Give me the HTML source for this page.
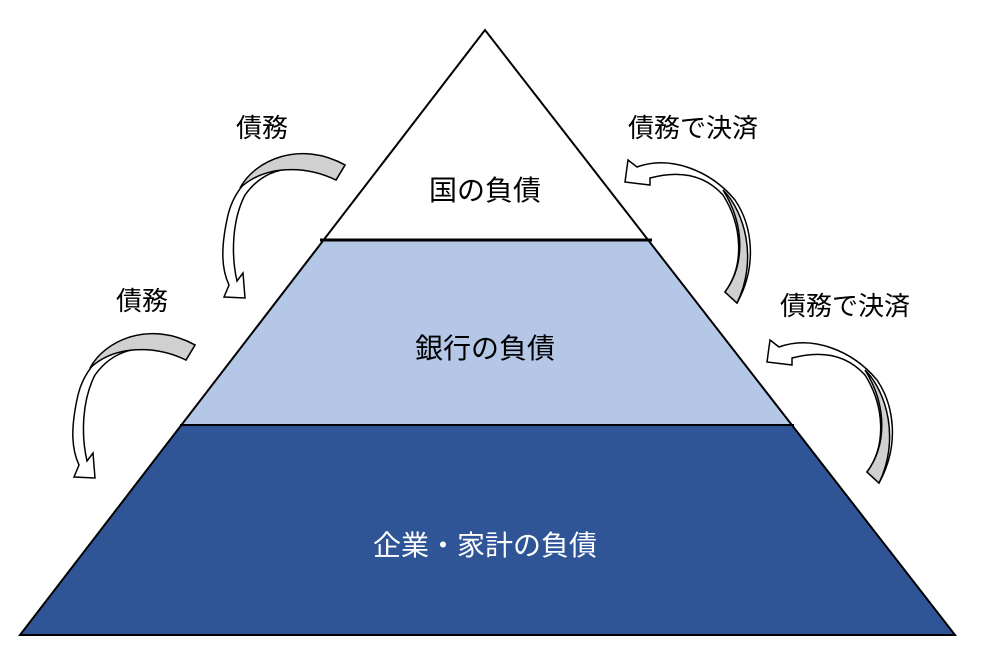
<!DOCTYPE html>
<html><head><meta charset="utf-8"><style>
html,body{margin:0;padding:0;background:#fff;}
svg{display:block}
text{font-family:"Liberation Sans","Noto Sans CJK JP",sans-serif;}
</style></head><body>
<svg width="1001" height="668" viewBox="0 0 1001 668" xmlns="http://www.w3.org/2000/svg">
<polygon points="485,30 323.6,240 648.1,240" fill="#fff"/>
<polygon points="323.6,240 648.1,240 791.9,425 181.4,425" fill="#b4c7e7"/>
<polygon points="181.4,425 791.9,425 955,635 20,635" fill="#2f5597"/>
<polygon points="485,30 20,635 955,635" fill="none" stroke="#000" stroke-width="2"/>
<line x1="320" y1="240" x2="652" y2="240" stroke="#000" stroke-width="3"/>
<line x1="180" y1="425" x2="794" y2="425" stroke="#000" stroke-width="2"/>
<text x="485" y="200" font-size="28" text-anchor="middle" fill="#000">国の負債</text>
<text x="485" y="358" font-size="28" text-anchor="middle" fill="#000">銀行の負債</text>
<text x="485" y="555" font-size="28" text-anchor="middle" fill="#fff">企業・家計の負債</text>
<text x="262" y="137" font-size="26" text-anchor="middle">債務</text>
<text x="693" y="137" font-size="26" text-anchor="middle">債務で決済</text>
<text x="142" y="310" font-size="26" text-anchor="middle">債務</text>
<text x="845" y="315" font-size="26" text-anchor="middle">債務で決済</text>
<defs>
<g id="la">
<path d="M345,165 C300,140 240,165 228,215 C220,250 222,270 229,285 L224,297 L245,298 L243,273 L237,281 C231,255 232,220 245,195 C270,160 310,165 336,180 Z" fill="#fff" stroke="#000" stroke-width="1.5"/>
<path d="M345,165 C300,140 255,160 240,188 C265,165 305,165 336,180 Z" fill="#d0d0d0" stroke="#000" stroke-width="1.5"/>
</g>
<g id="ra">
<path d="M628,160 L637,167 C670,155 710,170 735,200 C752,225 758,265 737,303 L725,292 C745,265 742,225 723,195 C705,175 680,170 650,178 L650,185 L625,182 Z" fill="#fff" stroke="#000" stroke-width="1.5"/>
<path d="M723,190 C745,212 758,260 737,303 L725,292 C745,265 745,225 723,190 Z" fill="#d0d0d0" stroke="#000" stroke-width="1.5"/>
</g>
</defs>
<use href="#la"/>
<use href="#la" transform="translate(-150,180)"/>
<use href="#ra"/>
<use href="#ra" transform="translate(142,180)"/>
</svg>
</body></html>
